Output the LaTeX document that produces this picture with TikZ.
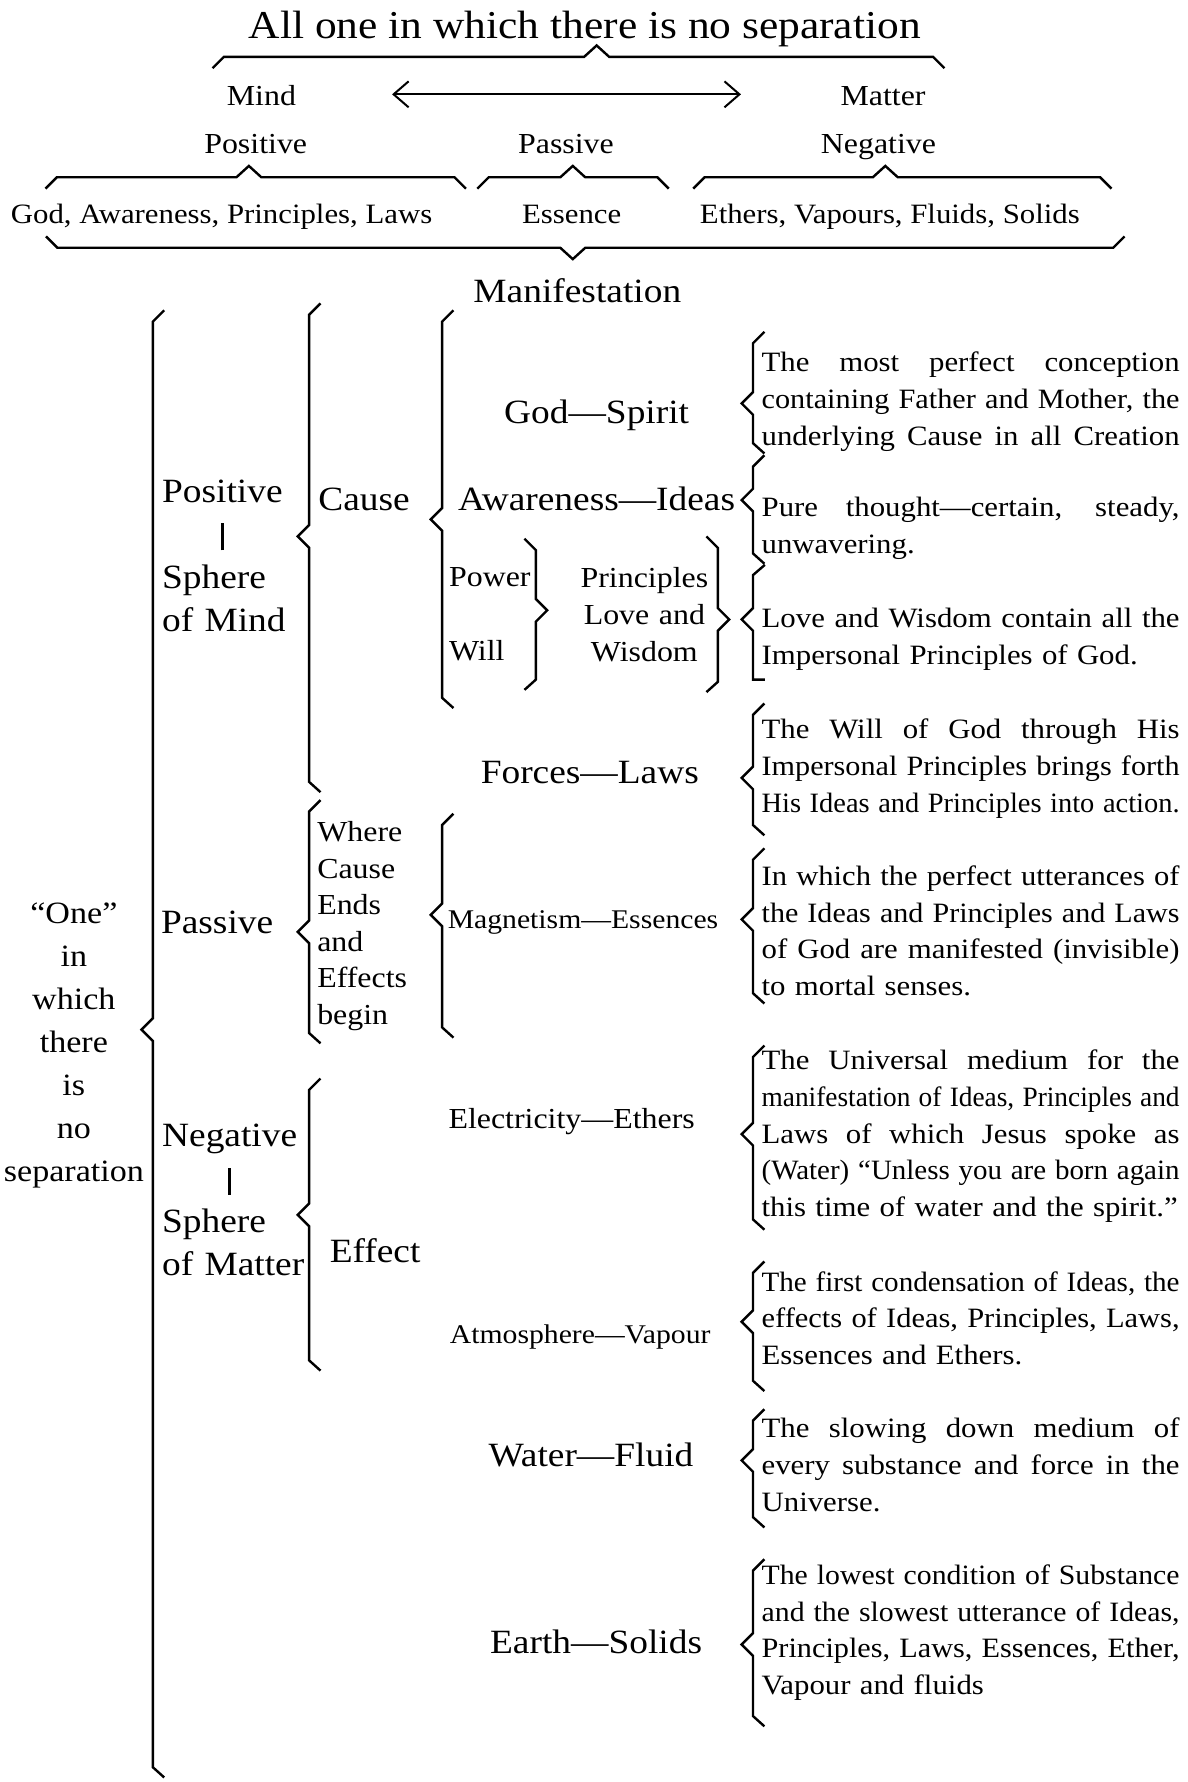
\documentclass[tikz,border=0pt]{standalone}
\usepackage{fontspec}
\setmainfont{Liberation Serif}[FakeStretch=1.1]
\usepackage{calc}
\usepackage{graphicx}
\usetikzlibrary{arrows.meta}

% width of the explanation column and one justified line of it
\newlength\descw
\setlength\descw{418pt}
\newlength\linew
\newcommand{\jl}[1]{\settowidth\linew{#1}%
  \ifdim\linew>\descw\resizebox{\descw}{\height}{#1}%
  \else\makebox[\descw][s]{\spaceskip=.25em plus 3em minus .05em\xspaceskip=\spaceskip #1}\fi}
% the short bar under Positive / Negative
\newcommand{\sbar}[1]{\makebox[\widthof{#1}]{\rule[-5pt]{2.4pt}{27pt}}}

% vertical brace: x, top, cusp, bottom, side (1 = opens right, -1 = opens left)
\newcommand{\vbr}[5]{%
  \draw[brace] ({#1+#5*10},{#2-10}) -- (#1,#2) -- (#1,{#3-10}) -- ({#1-#5*10},#3)
    -- (#1,{#3+10}) -- (#1,#4) -- ({#1+#5*10},{#4+9});}
% horizontal brace: left, cusp, right, y, side (1 = cusp up, -1 = cusp down)
\newcommand{\hbr}[5]{%
  \draw[brace] (#1,{#4+#5*10}) -- ({#1+10},#4) -- ({#2-11},#4) -- (#2,{#4-#5*10})
    -- ({#2+11},#4) -- ({#3-10},#4) -- (#3,{#4+#5*10});}

\begin{document}
\begin{tikzpicture}[x=1.1366pt,y=-1.1366pt,
        brace/.style={line width=2.4pt,line join=miter},
        big/.style={font=\fontsize{34}{43}\selectfont,inner sep=0pt},
        mid/.style={font=\fontsize{29}{37}\selectfont,inner sep=0pt},
        small/.style={font=\fontsize{27}{32}\selectfont,inner sep=0pt},
        row/.style={font=\fontsize{28}{32}\selectfont,inner sep=0pt},
        desc/.style={font=\fontsize{28}{36.8}\selectfont,inner sep=0pt,text width=\descw,align=left,anchor=base west},
        dblarrow/.style={{Straight Barb[length=15pt,width=26pt]}-{Straight Barb[length=15pt,width=26pt]},line width=2pt},
        ]
        \useasboundingbox (0,0) rectangle (1045,1568);

        % Top : all one
        \node[font=\fontsize{39.5}{44}\selectfont,inner sep=0pt,anchor=base] (title) at (514.6,34) {All one in which there is no separation};
        \hbr{187}{525}{831}{50}{1}
        \node[mid,anchor=base] (mind) at (230,93) {Mind};
        \node[mid,anchor=base] (matter) at (777,93) {Matter};
        \coordinate (arrL) at (345,83);
        \coordinate (arrR) at (652,83);
        \draw[dblarrow] (arrL) -- (arrR);

        % Positive, Passive, Negative
        \node[mid,anchor=base] (posT) at (225,135) {Positive};
        \node[mid,anchor=base] (pasT) at (498,135) {Passive};
        \node[mid,anchor=base] (negT) at (773,135) {Negative};
        \hbr{40}{219}{410}{156}{1}
        \hbr{420}{504}{588.5}{156}{1}
        \hbr{610}{779}{978}{156}{1}
        \node[row,anchor=base] (godrow) at (195,197) {God, Awareness, Principles, Laws};
        \node[row,anchor=base] (essence) at (503,197) {Essence};
        \node[row,anchor=base] (ethrow) at (783,197) {Ethers, Vapours, Fluids, Solids};
        \hbr{40.5}{504}{989.5}{218}{-1}
        \node[big,anchor=base] (manif) at (508,266) {Manifestation};

        % Left : "One"
        \node[font=\fontsize{31}{43}\selectfont,inner sep=0pt,text width=140pt,align=center,anchor=base] (one) at (65,813) {“One”\\in\\which\\there\\is\\no\\separation};
        \vbr{134.5}{283}{906}{1555}{1}

        % Positive : Cause
        \node[big,text width=180pt,align=left,anchor=base west] (posL) at (142.5,442) {Positive\\\sbar{Positive}\\Sphere\\of Mind};
        \vbr{272}{277}{472}{688}{1}
        \node[big,anchor=base west] (cause) at (280,449) {Cause};
        \vbr{389}{283}{457}{614}{1}
        \node[big,anchor=base] (god) at (525,373) {God—Spirit};
        \node[big,anchor=base] (aware) at (525,449) {Awareness—Ideas};
        \node[mid,anchor=base west] (power) at (395,516) {Power};
        \node[mid,anchor=base west] (will) at (395,581) {Will};
        \vbr{471.5}{484}{537}{598}{-1}
        \node[mid,text width=150pt,align=center,anchor=base] (princ) at (567,517) {Principles\\Love and\\Wisdom};
        \vbr{631.6}{482}{545}{600}{-1}

        \vbr{662.6}{302}{355}{390}{1}
        \node[desc] (dGod) at (670,327) {\jl{The most perfect conception}\\\jl{containing Father and Mother, the}\\\jl{underlying Cause in all Creation}};
        \vbr{662.6}{410.5}{440}{487}{1}
        \node[desc] (dAware) at (670,454.6) {\jl{Pure thought—certain, steady,}\\unwavering.};
        \draw[brace] (673,497) -- (662.6,506) -- (662.6,535) -- (652.6,545) -- (662.6,555) -- (662.6,598) -- (673,598);
        \node[desc] (dPrinc) at (670,552.5) {\jl{Love and Wisdom contain all the}\\Impersonal Principles of God.};

        \node[big,anchor=base] (forces) at (519,689) {Forces—Laws};
        \vbr{662.6}{629}{684.5}{726}{1}
        \node[desc] (dForces) at (670,650) {\jl{The Will of God through His}\\\jl{Impersonal Principles brings forth}\\\jl{His Ideas and Principles into action.}};

        % Passive
        \vbr{272}{714}{820}{909}{1}
        \node[big,anchor=base west] (pasL) at (141.5,821) {Passive};
        \node[font=\fontsize{29}{36.6}\selectfont,inner sep=0pt,text width=90pt,align=left,anchor=base west] (where) at (279,740.5) {Where\\Cause\\Ends\\and\\Effects\\begin};
        \vbr{389}{726}{805}{904}{1}
        \node[small,anchor=base] (magn) at (513,817) {Magnetism—Essences};
        \vbr{662.6}{756.5}{809}{874}{1}
        \node[desc] (dMagn) at (670,779) {\jl{In which the perfect utterances of}\\\jl{the Ideas and Principles and Laws}\\\jl{of God are manifested (invisible)}\\to mortal senses.};

        % Negative : Effect
        \vbr{272}{959}{1069}{1197}{1}
        \node[big,text width=180pt,align=left,anchor=base west] (negL) at (142.5,1009) {Negative\\\sbar{Negative}\\Sphere\\of Matter};
        \node[big,anchor=base west] (effect) at (290,1111) {Effect};

        \node[mid,anchor=base] (elec) at (503,993) {Electricity—Ethers};
        \vbr{662.6}{930}{998}{1073}{1}
        \node[desc] (dElec) at (670,941) {\jl{The Universal medium for the}\\\jl{manifestation of Ideas, Principles and}\\\jl{Laws of which Jesus spoke as}\\\jl{(Water) “Unless you are born again}\\this time of water and the spirit.”};

        \node[small,anchor=base] (atmo) at (510.5,1182) {Atmosphere—Vapour};
        \vbr{662.6}{1120}{1163}{1215}{1}
        \node[desc] (dAtmo) at (670,1136) {\jl{The first condensation of Ideas, the}\\\jl{effects of Ideas, Principles, Laws,}\\Essences and Ethers.};

        \node[big,anchor=base] (water) at (520,1290) {Water—Fluid};
        \vbr{662.6}{1250}{1285}{1335}{1}
        \node[desc] (dWater) at (670,1265) {\jl{The slowing down medium of}\\\jl{every substance and force in the}\\Universe.};

        \node[big,anchor=base] (earth) at (524.5,1455) {Earth—Solids};
        \vbr{662.6}{1382}{1447}{1510}{1}
        \node[desc] (dEarth) at (670,1394) {\jl{The lowest condition of Substance}\\\jl{and the slowest utterance of Ideas,}\\\jl{Principles, Laws, Essences, Ether,}\\Vapour and fluids};
    \end{tikzpicture}
\end{document}
